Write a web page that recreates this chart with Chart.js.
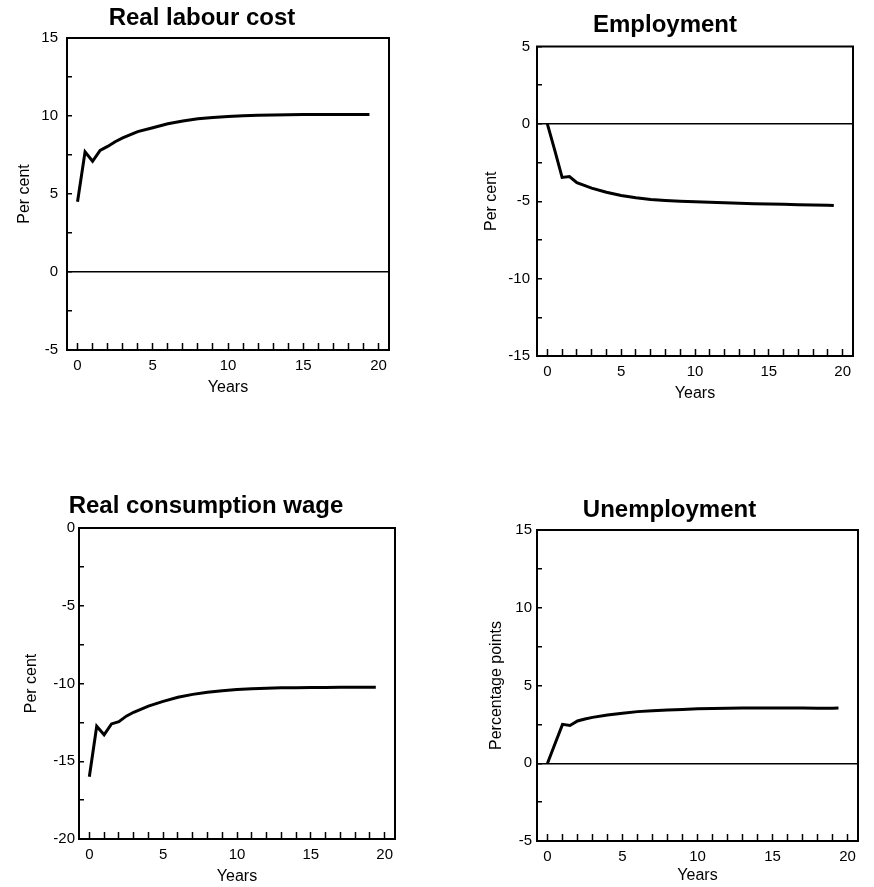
<!DOCTYPE html>
<html>
<head>
<meta charset="utf-8">
<script src="https://cdn.jsdelivr.net/npm/chart.js@4.4.1/dist/chart.umd.min.js"></script>
<style>
  body { margin: 0; background: #fff; width: 874px; height: 887px; position: relative; overflow: hidden; }
  canvas { position: absolute; }
</style>
</head>
<body>
<canvas id="c1"></canvas>
<canvas id="c2"></canvas>
<canvas id="c3"></canvas>
<canvas id="c4"></canvas>
<script>
// --- DATA ---
const years = [0, 0.5, 1, 1.5, 2, 2.5, 3, 4, 5, 6, 7, 8, 9, 10, 11, 12, 13, 14, 15, 16, 17, 18, 19, 19.4];
const labourCost = [4.5, 7.7, 7.1, 7.8, 8.05, 8.35, 8.6, 9.0, 9.25, 9.5, 9.68, 9.82, 9.9, 9.97, 10.02, 10.05, 10.07, 10.08, 10.1, 10.1, 10.1, 10.1, 10.1, 10.1];
const employment = [0, -1.7, -3.46, -3.4, -3.8, -3.98, -4.15, -4.42, -4.63, -4.78, -4.88, -4.95, -5.0, -5.04, -5.07, -5.1, -5.13, -5.16, -5.18, -5.2, -5.22, -5.24, -5.26, -5.28];
const consumptionWage = [-16.0, -12.75, -13.3, -12.6, -12.45, -12.1, -11.85, -11.45, -11.15, -10.88, -10.7, -10.56, -10.46, -10.38, -10.33, -10.3, -10.28, -10.27, -10.26, -10.25, -10.24, -10.24, -10.24, -10.24];
const unemployment = [0, 1.25, 2.5, 2.43, 2.72, 2.85, 2.95, 3.1, 3.22, 3.32, 3.37, 3.42, 3.46, 3.5, 3.52, 3.54, 3.55, 3.56, 3.56, 3.55, 3.55, 3.54, 3.54, 3.55];

const xTickLabels = [0, 5, 10, 15, 20];
const labourTicks = [-5, 0, 5, 10, 15];
const employmentTicks = [-15, -10, -5, 0, 5];
const wageTicks = [-20, -15, -10, -5, 0];
const unemploymentTicks = [-5, 0, 5, 10, 15];

const FONT = "'Liberation Sans', Arial, Helvetica, sans-serif";
Chart.defaults.font.family = FONT;
Chart.defaults.color = '#000';

// --- LAYOUT (canvas placement + fixed axis sizes) ---
const panels = [
  { id: 'c1', title: 'Real labour cost', yTitle: 'Per cent', values: labourCost, yLabels: labourTicks,
    x: 15, y: 0, w: 389, h: 400, yAxisW: 52, xAxisH: 50, padR: 15,
    titleTop: 6, titleBottom: 8, yTitlePad: 0.4, xTitlePad: 2.4, labelGap: 9 },
  { id: 'c2', title: 'Employment', yTitle: 'Per cent', values: employment, yLabels: employmentTicks,
    x: 477, y: 0, w: 391, h: 410, yAxisW: 60, xAxisH: 54, padR: 15,
    titleTop: 13, titleBottom: 9.5, yTitlePad: 5.1, xTitlePad: 6.4, labelGap: 7 },
  { id: 'c3', title: 'Real consumption wage', yTitle: 'Per cent', values: consumptionWage, yLabels: wageTicks,
    x: 17, y: 480, w: 393, h: 407, yAxisW: 62, xAxisH: 48, padR: 15,
    titleTop: 14.7, titleBottom: 9.3, yTitlePad: 5.1, xTitlePad: 0.7, labelGap: 4 },
  { id: 'c4', title: 'Unemployment', yTitle: 'Percentage points', values: unemployment, yLabels: unemploymentTicks,
    x: 481, y: 480, w: 392, h: 407, yAxisW: 56, xAxisH: 46, padR: 15,
    titleTop: 18, titleBottom: 8, yTitlePad: 6.1, xTitlePad: 1.4, labelGap: 5 }
];

// box round the plot area
const frame = {
  id: 'frame',
  afterDraw(chart) {
    const { ctx, chartArea: a } = chart;
    ctx.save();
    ctx.strokeStyle = '#000';
    ctx.lineWidth = 2;
    ctx.strokeRect(a.left, a.top, a.right - a.left, a.bottom - a.top);
    ctx.restore();
  }
};

function makeChart(p) {
  const cv = document.getElementById(p.id);
  cv.width = p.w;
  cv.height = p.h;
  cv.style.left = p.x + 'px';
  cv.style.top = p.y + 'px';
  const pts = years.map((yr, i) => ({ x: yr, y: p.values[i] }));

  return new Chart(cv, {
    type: 'line',
    data: {
      datasets: [{
        data: pts, borderColor: '#000', borderWidth: 3,
        pointRadius: 0, tension: 0, fill: false
      }]
    },
    options: {
      responsive: false,
      animation: false,
      events: [],
      layout: { padding: { left: 0, right: p.padR, top: 0, bottom: 0 } },
      plugins: {
        legend: { display: false },
        tooltip: { enabled: false },
        title: {
          display: true, text: p.title, color: '#000',
          font: { size: 24, weight: 'bold', lineHeight: '24px' },
          padding: { top: p.titleTop, bottom: p.titleBottom }
        }
      },
      scales: {
        x: {
          type: 'linear', min: -0.7, max: 20.7,
          afterFit: s => { s.height = p.xAxisH; },
          border: { display: false },
          grid: { drawOnChartArea: false, tickLength: -7, tickColor: '#000', tickWidth: 1.5 },
          ticks: {
            stepSize: 1, includeBounds: false, autoSkip: false, maxRotation: 0,
            padding: 14, color: '#000', font: { size: 15 },
            callback: v => xTickLabels.includes(v) ? String(v) : ''
          },
          title: {
            display: true, text: 'Years', color: '#000', font: { size: 16 },
            padding: { top: 0, bottom: p.xTitlePad }
          }
        },
        y: {
          min: p.yLabels[0], max: p.yLabels[p.yLabels.length - 1],
          afterFit: s => { s.width = p.yAxisW; },
          border: { display: false },
          grid: {
            color: c => (c.tick && c.tick.value === 0) ? '#000' : 'rgba(0,0,0,0)',
            lineWidth: 1.5, tickLength: -5, tickColor: '#000', tickWidth: 1.5
          },
          ticks: {
            stepSize: 2.5, includeBounds: false, autoSkip: false,
            padding: p.labelGap + 5, color: '#000', font: { size: 15 },
            callback: v => p.yLabels.includes(v) ? String(v) : ''
          },
          title: {
            display: true, text: p.yTitle, color: '#000', font: { size: 16 },
            padding: { top: p.yTitlePad, bottom: 0 }
          }
        }
      }
    },
    plugins: [frame]
  });
}

panels.forEach(makeChart);
</script>
</body>
</html>
